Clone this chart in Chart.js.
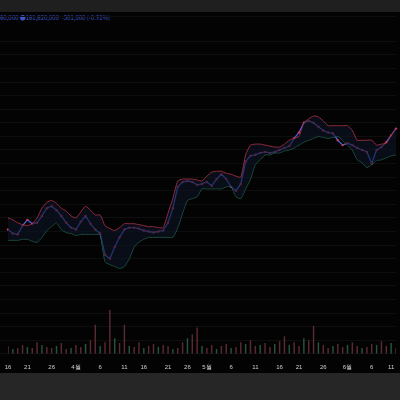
<!DOCTYPE html>
<html lang="ko">
<head>
<meta charset="UTF-8">
<title>Price chart</title>
<script src="https://cdn.jsdelivr.net/npm/chart.js"></script>
<style>
  body { margin: 0; width: 400px; height: 400px; background: #030303; overflow: hidden; font-family: 'Noto Sans CJK KR', 'Noto Sans', sans-serif; }
  .topbar { position: absolute; left: 0; top: 0; width: 400px; height: 12px; background: #1f1f1f; }
  .bottombar { position: absolute; left: 0; top: 373px; width: 400px; height: 27px; background: #262626; }
  .info { position: absolute; left: 0; top: 13px; font-size: 6px; color: #3f55c8; white-space: nowrap; }
  .wrap { position: absolute; left: 0; top: 12px; width: 400px; height: 361px; }
</style>
</head>
<body>
<div class="topbar"></div>
<div class="info">60,000 &#9679;161,620,000 &nbsp;-501,000 (-0.31%)</div>
<div class="wrap"><canvas id="c"></canvas></div>
<div class="bottombar"></div>
<script>
// one point per day, mid-March to mid-June
const labels = ['16','','','','21','','','','','26','','','','','4월','','','','','6','','','','','11','','','','16','','','','','21','','','','26','','','','5월','','','','','6','','','','','11','','','','','16','','','','21','','','','','26','','','','','6월','','','','','6','','','','11',''];
// price (higher = up)
const price = [128,124,123,132,138,134,135,142,150,152,148,142,135,130,128,136,142,134,128,124,102,98,110,120,128,130,130,129,127,126,125,126,127,135,150,172,177,178,177,174,175,177,173,180,185,180,172,168,175,198,204,205,207,208,207,208,210,212,214,222,228,238,240,238,234,230,228,227,220,215,217,215,212,210,208,196,210,213,218,225,232];
const upper = [140,138,135,133,132,134,140,150,156,158,155,150,147,142,140,146,152,148,143,143,132,129,127,130,134,134,134,133,132,131,131,130,130,145,160,178,180,180,180,179,178,183,187,188,188,186,185,183,182,205,215,216,216,215,214,213,213,216,220,222,224,238,242,245,244,240,235,235,235,235,235,230,220,220,220,220,215,216,217,225,232];
const lower = [117,117,117,118,118,116,115,120,127,131,135,128,125,124,122,123,123,123,123,123,95,92,90,88,90,98,110,115,118,120,120,120,120,120,120,130,145,158,160,162,170,170,170,170,170,172,172,162,160,170,180,195,200,205,205,207,207,209,210,212,215,218,220,222,224,223,222,223,224,220,215,210,200,197,192,195,199,200,202,204,205];
const volume = [8,5,6,9,7,6,12,9,7,6,8,11,5,6,9,7,10,14,30,8,12,45,16,11,30,8,7,12,6,8,10,7,9,8,5,6,12,16,20,27,8,6,9,5,8,10,6,7,12,10,14,8,9,11,7,10,13,18,9,12,8,16,14,29,12,9,6,8,10,7,9,12,8,6,7,10,9,13,8,11,6];

new Chart(document.getElementById('c'), {
  data: {
    labels: labels,
    datasets: [
      { type: 'line', data: upper, borderColor: '#b8354a', borderWidth: 0.8, pointRadius: 0, tension: 0.2, fill: '+1', backgroundColor: 'rgba(12,20,36,0.6)', yAxisID: 'y' },
      { type: 'line', data: lower, borderColor: '#2a7a58', borderWidth: 0.8, pointRadius: 0, tension: 0.2, fill: false, yAxisID: 'y' },
      { type: 'line', data: price, borderColor: '#4a62e8', borderWidth: 1.3, pointRadius: 1.2, pointBackgroundColor: '#c83a55', pointBorderWidth: 0, tension: 0, fill: false, yAxisID: 'y' },
      { type: 'bar', data: volume, backgroundColor: (c) => c.dataIndex % 3 === 1 ? '#25543f' : '#5a2a32', barPercentage: 0.3, categoryPercentage: 1, yAxisID: 'v' }
    ]
  },
  options: {
    responsive: true,
    maintainAspectRatio: false,
    animation: false,
    layout: { padding: 0 },
    plugins: { legend: { display: false }, tooltip: { enabled: false } },
    scales: {
      x: {
        offset: false,
        grid: { display: false },
        border: { display: false },
        ticks: { autoSkip: false, maxRotation: 0, color: '#d0d0d0', font: { size: 6 }, padding: 2 }
      },
      y: {
        min: 0, max: 348,
        grid: { color: '#0e0e0e', lineWidth: 1 },
        border: { display: false },
        ticks: { display: false, stepSize: 14 }
      },
      v: {
        display: false, min: 0, max: 348
      }
    }
  }
});
</script>
</body>
</html>
